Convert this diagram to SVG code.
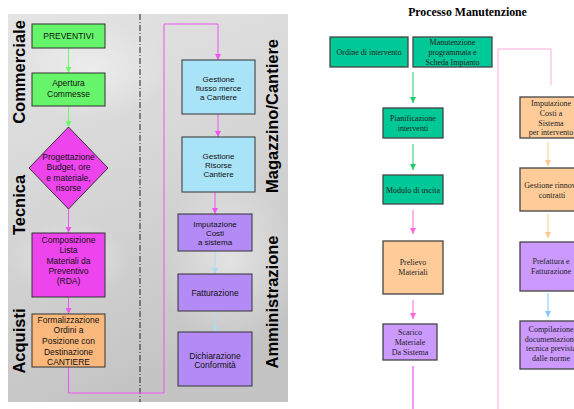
<svg xmlns="http://www.w3.org/2000/svg" width="574" height="409" viewBox="0 0 574 409">
<defs>
<linearGradient id="bg" x1="0" y1="0" x2="0.3" y2="1">
<stop offset="0" stop-color="#e4e4e4"/>
<stop offset="0.5" stop-color="#d6d6d6"/>
<stop offset="1" stop-color="#c4c4c4"/>
</linearGradient>
<radialGradient id="blot" cx="0.5" cy="0.5" r="0.5">
<stop offset="0" stop-color="#ffffff" stop-opacity="0.45"/>
<stop offset="1" stop-color="#ffffff" stop-opacity="0"/>
</radialGradient>
<marker id="mGreen" viewBox="0 0 6 6" refX="6" refY="3" markerWidth="6" markerHeight="6" markerUnits="userSpaceOnUse" orient="auto"><path d="M0,0 L6,3 L0,6 z" fill="#66ff66"/></marker>
<marker id="mMag" viewBox="0 0 6 6" refX="6" refY="3" markerWidth="6" markerHeight="6" markerUnits="userSpaceOnUse" orient="auto"><path d="M0,0 L6,3 L0,6 z" fill="#ee55ee"/></marker>
<marker id="mLBlue" viewBox="0 0 6 6" refX="6" refY="3" markerWidth="6" markerHeight="6" markerUnits="userSpaceOnUse" orient="auto"><path d="M0,0 L6,3 L0,6 z" fill="#aadcee"/></marker>
<marker id="mTeal" viewBox="0 0 6 6" refX="6" refY="3" markerWidth="6" markerHeight="6" markerUnits="userSpaceOnUse" orient="auto"><path d="M0,0 L6,3 L0,6 z" fill="#22cc66"/></marker>
<marker id="mPink" viewBox="0 0 6 6" refX="6" refY="3" markerWidth="6" markerHeight="6" markerUnits="userSpaceOnUse" orient="auto"><path d="M0,0 L6,3 L0,6 z" fill="#ff66dd"/></marker>
<marker id="mOr" viewBox="0 0 6 6" refX="6" refY="3" markerWidth="6" markerHeight="6" markerUnits="userSpaceOnUse" orient="auto"><path d="M0,0 L6,3 L0,6 z" fill="#ffc890"/></marker>
<marker id="mSky" viewBox="0 0 6 6" refX="6" refY="3" markerWidth="6" markerHeight="6" markerUnits="userSpaceOnUse" orient="auto"><path d="M0,0 L6,3 L0,6 z" fill="#88c4ff"/></marker>
</defs>
<style>
.lt{font-family:"Liberation Sans",Arial,sans-serif;font-size:8.5px;fill:#111;text-anchor:middle}
.st{font-size:8px}
.lane{font-family:"Liberation Sans",Arial,sans-serif;font-size:16.5px;font-weight:bold;fill:#000;text-anchor:middle}
.rt{font-family:"Liberation Serif","Times New Roman",serif;font-size:8px;fill:#222;text-anchor:middle}
.lb{stroke:#333;stroke-width:1}
.rb{stroke:#444;stroke-width:1.3}
.green{fill:#66f56a}
.mag{fill:#ee44ee}
.orange{fill:#fbb87c}
.blue{fill:#a9e3f7}
.purple{fill:#b48bf6}
.teal{fill:#00c896}
.ror{fill:#ffcc99}
.rpu{fill:#cc99ff}
.c{fill:none;stroke-width:1}
</style>
<rect x="0" y="0" width="574" height="409" fill="#ffffff"/>
<g id="left-background">
<rect x="8" y="14" width="280" height="388" fill="url(#bg)"/>
<ellipse cx="90" cy="70" rx="80" ry="50" fill="url(#blot)"/>
<ellipse cx="230" cy="260" rx="70" ry="90" fill="url(#blot)"/>
<ellipse cx="70" cy="260" rx="60" ry="40" fill="url(#blot)"/>
<line x1="140" y1="14" x2="140" y2="402" stroke="#222" stroke-width="1" stroke-dasharray="6,2,1,2"/>
</g>
<g id="lanes">
<text class="lane" transform="translate(25,72) rotate(-90)">Commerciale</text>
<text class="lane" transform="translate(25,205) rotate(-90)">Tecnica</text>
<text class="lane" transform="translate(25,341) rotate(-90)">Acquisti</text>
<text class="lane" transform="translate(278,116) rotate(-90)">Magazzino/Cantiere</text>
<text class="lane" transform="translate(278,302) rotate(-90)">Amministrazione</text>
</g>
<g id="connectors">
<path class="c" d="M68.5,48 V73" stroke="#66ff66" marker-end="url(#mGreen)"/>
<path class="c" d="M68.5,106 V127" stroke="#66ff66" marker-end="url(#mGreen)"/>
<path class="c" d="M68.5,209 V233" stroke="#ee55ee" marker-end="url(#mMag)"/>
<path class="c" d="M68.5,297 V314" stroke="#ee55ee" marker-end="url(#mMag)"/>
<path class="c" d="M68.5,367 V393 H164 V24 H218 V60" stroke="#ee55ee" marker-end="url(#mMag)"/>
<path class="c" d="M218,114 V137" stroke="#ee55ee" marker-end="url(#mMag)"/>
<path class="c" d="M215,192 V214" stroke="#ee55ee" marker-end="url(#mMag)"/>
<path class="c" d="M215,251 V274" stroke="#aadcee" marker-end="url(#mLBlue)"/>
<path class="c" d="M215,311 V332" stroke="#aadcee" marker-end="url(#mLBlue)"/>
<path class="c" d="M413,72 V103" stroke="#22cc66" marker-end="url(#mTeal)"/>
<path class="c" d="M413,144 V170" stroke="#22cc66" marker-end="url(#mTeal)"/>
<path class="c" d="M413,210 V234" stroke="#ff66dd" marker-end="url(#mPink)"/>
<path class="c" d="M413,300 V319" stroke="#ff66dd" marker-end="url(#mPink)"/>
<path class="c" d="M413,366 V409" stroke="#ee33ee"/>
<path class="c" d="M498,409 V49 H551 V85" stroke="#ffaadd" stroke-width="1.3"/>
<path class="c" d="M548,142 V166" stroke="#ffc890" marker-end="url(#mOr)"/>
<path class="c" d="M548,214 V238" stroke="#ffc890" marker-end="url(#mOr)"/>
<path class="c" d="M548,293 V317" stroke="#88c4ff" marker-end="url(#mSky)"/>
</g>
<g id="preventivi">
<rect class="green lb" x="32" y="24" width="73" height="24"/>
<text class="lt" x="68.5" y="39">PREVENTIVI</text>
</g>
<g id="apertura">
<rect class="green lb" x="32" y="73" width="73" height="33"/>
<text class="lt" x="68.5" y="86">Apertura</text>
<text class="lt" x="68.5" y="97">Commesse</text>
</g>
<g id="progettazione">
<polygon class="mag lb" points="68.5,127 108,168 68.5,209 29,168"/>
<text class="lt" x="68.5" y="160">Progettazione</text>
<text class="lt" x="68.5" y="170">Budget, ore</text>
<text class="lt" x="68.5" y="181">e materiale,</text>
<text class="lt" x="68.5" y="191">risorse</text>
</g>
<g id="composizione">
<rect class="mag lb" x="32" y="233" width="73" height="64"/>
<text class="lt" x="68.5" y="243">Composizione</text>
<text class="lt" x="68.5" y="253">Lista</text>
<text class="lt" x="68.5" y="264">Materiali da</text>
<text class="lt" x="68.5" y="274">Preventivo</text>
<text class="lt" x="68.5" y="284">(RDA)</text>
</g>
<g id="formalizzazione">
<rect class="orange lb" x="32" y="314" width="73" height="53"/>
<text class="lt" x="68.5" y="323">Formalizzazione</text>
<text class="lt" x="68.5" y="333">Ordini a</text>
<text class="lt" x="68.5" y="344">Posizione con</text>
<text class="lt" x="68.5" y="355">Destinazione</text>
<text class="lt" x="68.5" y="365">CANTIERE</text>
</g>
<g id="flusso">
<rect class="blue lb" x="182" y="60" width="73" height="54"/>
<text class="lt st" x="218.5" y="82">Gestione</text>
<text class="lt st" x="218.5" y="91">flusso merce</text>
<text class="lt st" x="218.5" y="100">a Cantiere</text>
</g>
<g id="risorse">
<rect class="blue lb" x="182" y="137" width="73" height="55"/>
<text class="lt st" x="218.5" y="159">Gestione</text>
<text class="lt st" x="218.5" y="168">Risorse</text>
<text class="lt st" x="218.5" y="177">Cantiere</text>
</g>
<g id="imputazione-costi">
<rect class="purple lb" x="178" y="214" width="74" height="37"/>
<text class="lt st" x="215" y="227">Imputazione</text>
<text class="lt st" x="215" y="236">Costi</text>
<text class="lt st" x="215" y="245">a sistema</text>
</g>
<g id="fatturazione">
<rect class="purple lb" x="178" y="274" width="74" height="37"/>
<text class="lt" x="215" y="296">Fatturazione</text>
</g>
<g id="dichiarazione">
<rect class="purple lb" x="178" y="332" width="74" height="54"/>
<text class="lt" x="215" y="359">Dichiarazione</text>
<text class="lt" x="215" y="368">Conformità</text>
</g>
<g id="title">
<text x="467.5" y="16" font-family="'Liberation Serif','Times New Roman',serif" font-size="11.8" font-weight="bold" text-anchor="middle" fill="#000">Processo Manutenzione</text>
</g>
<g id="ordine">
<rect class="teal rb" x="330" y="37" width="78" height="30"/>
<text class="rt" x="369" y="55">Ordine di intervento</text>
</g>
<g id="manutenzione">
<rect class="teal rb" x="413" y="37" width="79" height="30"/>
<text class="rt" x="452.5" y="45">Manutenzione</text>
<text class="rt" x="452.5" y="55">programmata e</text>
<text class="rt" x="452.5" y="65">Scheda Impianto</text>
</g>
<g id="pianificazione">
<rect class="teal rb" x="383" y="108" width="60" height="30"/>
<text class="rt" x="413" y="121">Pianificazione</text>
<text class="rt" x="413" y="131">interventi</text>
</g>
<g id="modulo">
<rect class="teal rb" x="383" y="175" width="60" height="29"/>
<text class="rt" x="413" y="193">Modulo di uscita</text>
</g>
<g id="prelievo">
<rect class="ror rb" x="383" y="241" width="60" height="53"/>
<text class="rt" x="413" y="265">Prelievo</text>
<text class="rt" x="413" y="275">Materiali</text>
</g>
<g id="scarico">
<rect class="rpu rb" x="383" y="324" width="54" height="36"/>
<text class="rt" x="410" y="335">Scarico</text>
<text class="rt" x="410" y="345">Materiale</text>
<text class="rt" x="410" y="355">Da Sistema</text>
</g>
<g id="imputazione-intervento">
<rect class="ror rb" x="520" y="97" width="62" height="41"/>
<text class="rt" x="551" y="106">Imputazione</text>
<text class="rt" x="551" y="116">Costi a</text>
<text class="rt" x="551" y="126">Sistema</text>
<text class="rt" x="551" y="135">per intervento</text>
</g>
<g id="rinnovo">
<rect class="ror rb" x="520" y="168" width="62" height="43"/>
<text class="rt" x="552" y="188">Gestione rinnovo</text>
<text class="rt" x="552" y="198">contratti</text>
</g>
<g id="prefattura">
<rect class="rpu rb" x="520" y="242" width="62" height="49"/>
<text class="rt" x="551" y="264">Prefattura e</text>
<text class="rt" x="551" y="274">Fatturazione</text>
</g>
<g id="compilazione">
<rect class="rpu rb" x="520" y="321" width="62" height="48"/>
<text class="rt" x="551" y="332">Compilazione</text>
<text class="rt" x="551" y="342">documentazione</text>
<text class="rt" x="551" y="351">tecnica  prevista</text>
<text class="rt" x="551" y="361">dalle norme</text>
</g>
</svg>
